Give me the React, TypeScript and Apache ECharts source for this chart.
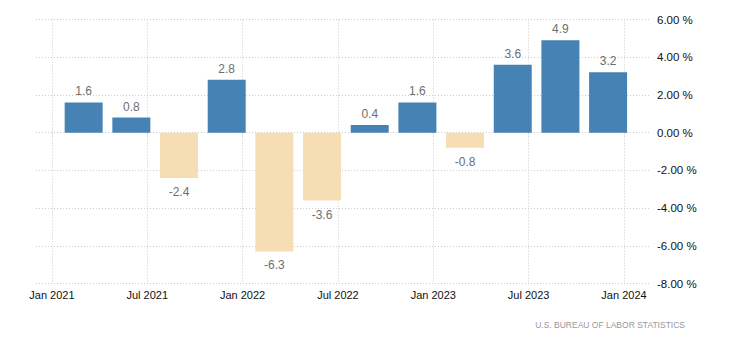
import React, { useEffect, useRef } from "react";
import * as echarts from "echarts";

const quarters = [
  "2021-03", "2021-06", "2021-09", "2021-12",
  "2022-03", "2022-06", "2022-09", "2022-12",
  "2023-03", "2023-06", "2023-09", "2023-12",
];
const values = [1.6, 0.8, -2.4, 2.8, -6.3, -3.6, 0.4, 1.6, -0.8, 3.6, 4.9, 3.2];
const tickDates = ["2021-01", "2021-07", "2022-01", "2022-07", "2023-01", "2023-07", "2024-01"];
const tickLabels = ["Jan 2021", "Jul 2021", "Jan 2022", "Jul 2022", "Jan 2023", "Jul 2023", "Jan 2024"];
const yTicks = [-8, -6, -4, -2, 0, 2, 4, 6];
const sourceText = "U.S. BUREAU OF LABOR STATISTICS";

const monthIndex = (s: string) => {
  const [y, m] = s.split("-").map(Number);
  return (y - 2021) * 12 + (m - 1);
};

const POS = "#4682B4";
const NEG = "#F5DEB3";
const FONT = "Liberation Sans, Arial, sans-serif";

export default function App() {
  const ref = useRef<HTMLDivElement>(null);
  useEffect(() => {
    if (!ref.current) return;
    const chart = echarts.init(ref.current, null, { renderer: "svg" });
    const tickVals = tickDates.map(monthIndex);
    const dotted = { color: "#cccccc", width: 1, type: [1, 2] as any };
    chart.setOption({
      animation: false,
      grid: { left: 36, right: 79, top: 19.5, bottom: 67.5, containLabel: false },
      xAxis: {
        type: "value",
        min: -1,
        max: 37.7,
        axisLine: { show: false },
        axisTick: { show: true, length: 4, customValues: tickVals, lineStyle: dotted },
        axisLabel: {
          customValues: tickVals,
          margin: 6,
          color: "#111",
          fontFamily: FONT,
          fontSize: 11,
          formatter: (v: number) => {
            const i = tickVals.indexOf(Math.round(v));
            return i >= 0 ? tickLabels[i] : "";
          },
        },
        splitLine: { show: true, lineStyle: dotted },
      },
      yAxis: {
        type: "value",
        position: "right",
        min: -8,
        max: 6,
        interval: 2,
        axisLine: { show: false },
        axisTick: { show: false },
        axisLabel: {
          margin: 6,
          color: "#111",
          fontFamily: FONT,
          fontSize: 11.5,
          formatter: (v: number) => (yTicks.includes(v) ? v.toFixed(2) + " %" : ""),
        },
        splitLine: { show: true, lineStyle: dotted },
      },
      series: [
        {
          type: "bar",
          barWidth: 38,
          data: quarters.map((q, i) => ({
            value: [monthIndex(q), values[i]],
            itemStyle: { color: values[i] >= 0 ? POS : NEG },
            label: {
              show: true,
              position: values[i] >= 0 ? "top" : "bottom",
              distance: values[i] >= 0 ? 5 : 8,
              color: "#6e6e6e",
              fontFamily: FONT,
              fontSize: 12,
              formatter: () => values[i].toFixed(1),
            },
          })),
        },
      ],
      graphic: [
        {
          type: "text",
          right: 45,
          top: 320,
          style: {
            text: sourceText,
            fill: "#999",
            font: `8.5px ${FONT}`,
          },
        },
      ],
    });
    return () => chart.dispose();
  }, []);
  return (
    <div
      ref={ref}
      style={{ position: "absolute", left: 0, top: 0, width: 730, height: 351 }}
    />
  );
}
